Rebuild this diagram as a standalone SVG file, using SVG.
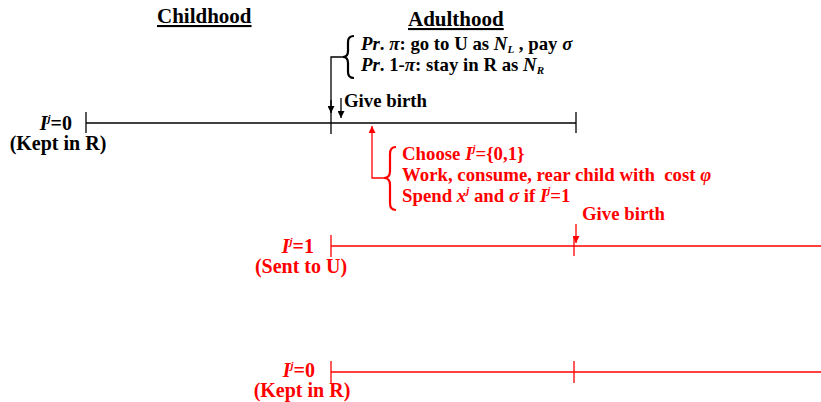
<svg xmlns="http://www.w3.org/2000/svg" width="821" height="402" viewBox="0 0 821 402">
<style>
text{font-family:"Liberation Serif","Times New Roman",serif;font-weight:bold;font-size:18.8px}
.h{font-size:21px;text-decoration:underline}
.lb{font-size:20px}
.k{fill:#000}
.r{fill:#ff0000}
.i{font-style:italic}
.s{font-size:11px}
.lk{stroke:#000;stroke-width:1.3;fill:none}
.lr{stroke:#ff0000;stroke-width:1.3;fill:none}
.bk{stroke:#000;stroke-width:2.2;fill:none}
.br{stroke:#ff0000;stroke-width:2.2;fill:none}
</style>
<defs>
<marker id="ak" viewBox="0 0 10 10" refX="10" refY="5" markerWidth="7" markerHeight="7" orient="auto" markerUnits="userSpaceOnUse"><path d="M0,0 L10,5 L0,10 z" fill="#000"/></marker>
<marker id="ar" viewBox="0 0 10 10" refX="10" refY="5" markerWidth="7" markerHeight="7" orient="auto" markerUnits="userSpaceOnUse"><path d="M0,0 L10,5 L0,10 z" fill="#ff0000"/></marker>
</defs>

<g id="headers">
<text class="k h" x="157" y="23">Childhood</text>
<text class="k h" x="408" y="26">Adulthood</text>
</g>

<g id="migration-note">
<path class="bk" d="M354,36 Q348,36 348,42 L348,51 Q348,57 343,57 Q348,57 348,63 L348,72 Q348,78 354,78"/>
<text class="k" x="361" y="50"><tspan class="i">Pr</tspan>. <tspan class="i">π</tspan>: go to U as <tspan class="i">N</tspan><tspan class="i s" dy="3">L</tspan><tspan dy="-3"> , pay </tspan><tspan class="i">σ</tspan></text>
<text class="k" x="361" y="71"><tspan class="i">Pr</tspan>. 1-<tspan class="i">π</tspan>: stay in R as <tspan class="i">N</tspan><tspan class="i s" dy="3">R</tspan></text>
</g>

<g id="timeline-parent">
<line class="lk" x1="86" y1="123" x2="576" y2="123"/>
<line class="lk" x1="86" y1="112" x2="86" y2="133"/>
<line class="lk" x1="576" y1="112" x2="576" y2="133"/>
<text class="k lb" x="72" y="130" text-anchor="end"><tspan class="i">I</tspan><tspan class="i s" dy="-8">j</tspan><tspan dy="8">=0</tspan></text>
<text class="k lb" x="58" y="150" text-anchor="middle">(Kept in R)</text>
<text class="k" x="344" y="107">Give birth</text>
</g>

<g id="choice-note">
<path class="br" d="M396,147 Q390,147 390,154 L390,171 Q390,178 384,178 Q390,178 390,185 L390,203 Q390,210 396,210"/>
<text class="r" x="402" y="160">Choose <tspan class="i">I</tspan><tspan class="i s" dy="-8">j</tspan><tspan dy="8">={0,1}</tspan></text>
<text class="r" x="402" y="181" xml:space="preserve">Work, consume, rear child with  cost <tspan class="i">φ</tspan></text>
<text class="r" x="402" y="202">Spend <tspan class="i">x</tspan><tspan class="i s" dy="-8">j</tspan><tspan dy="8"> and </tspan><tspan class="i">σ</tspan> if <tspan class="i">I</tspan><tspan class="i s" dy="-8">j</tspan><tspan dy="8">=1</tspan></text>
</g>

<g id="timeline-sent">
<line class="lr" x1="331" y1="246" x2="821" y2="246"/>
<line class="lr" x1="331" y1="235" x2="331" y2="257"/>
<line class="lr" x1="574" y1="237" x2="574" y2="256"/>
<text class="r lb" x="314" y="253" text-anchor="end"><tspan class="i">I</tspan><tspan class="i s" dy="-8">j</tspan><tspan dy="8">=1</tspan></text>
<text class="r lb" x="301" y="273" text-anchor="middle">(Sent to U)</text>
<text class="r" x="582" y="220">Give birth</text>
</g>

<g id="timeline-kept">
<line class="lr" x1="331" y1="372" x2="821" y2="372"/>
<line class="lr" x1="331" y1="361" x2="331" y2="383"/>
<line class="lr" x1="574" y1="361" x2="574" y2="383"/>
<text class="r lb" x="315" y="377" text-anchor="end"><tspan class="i">I</tspan><tspan class="i s" dy="-8">j</tspan><tspan dy="8">=0</tspan></text>
<text class="r lb" x="302" y="397" text-anchor="middle">(Kept in R)</text>
</g>

<g id="connectors">
<path class="lk" d="M343,57 L331,57 L331,134" stroke="#555"/>
<line class="lk" x1="331" y1="100" x2="331" y2="113" marker-end="url(#ak)"/>
<line class="lk" x1="341" y1="98" x2="341" y2="118" marker-end="url(#ak)"/>
<path class="lr" d="M384,178 L372,178 L372,126" marker-end="url(#ar)"/>
<line class="lr" x1="576" y1="224" x2="576" y2="243" marker-end="url(#ar)"/>
</g>
</svg>
